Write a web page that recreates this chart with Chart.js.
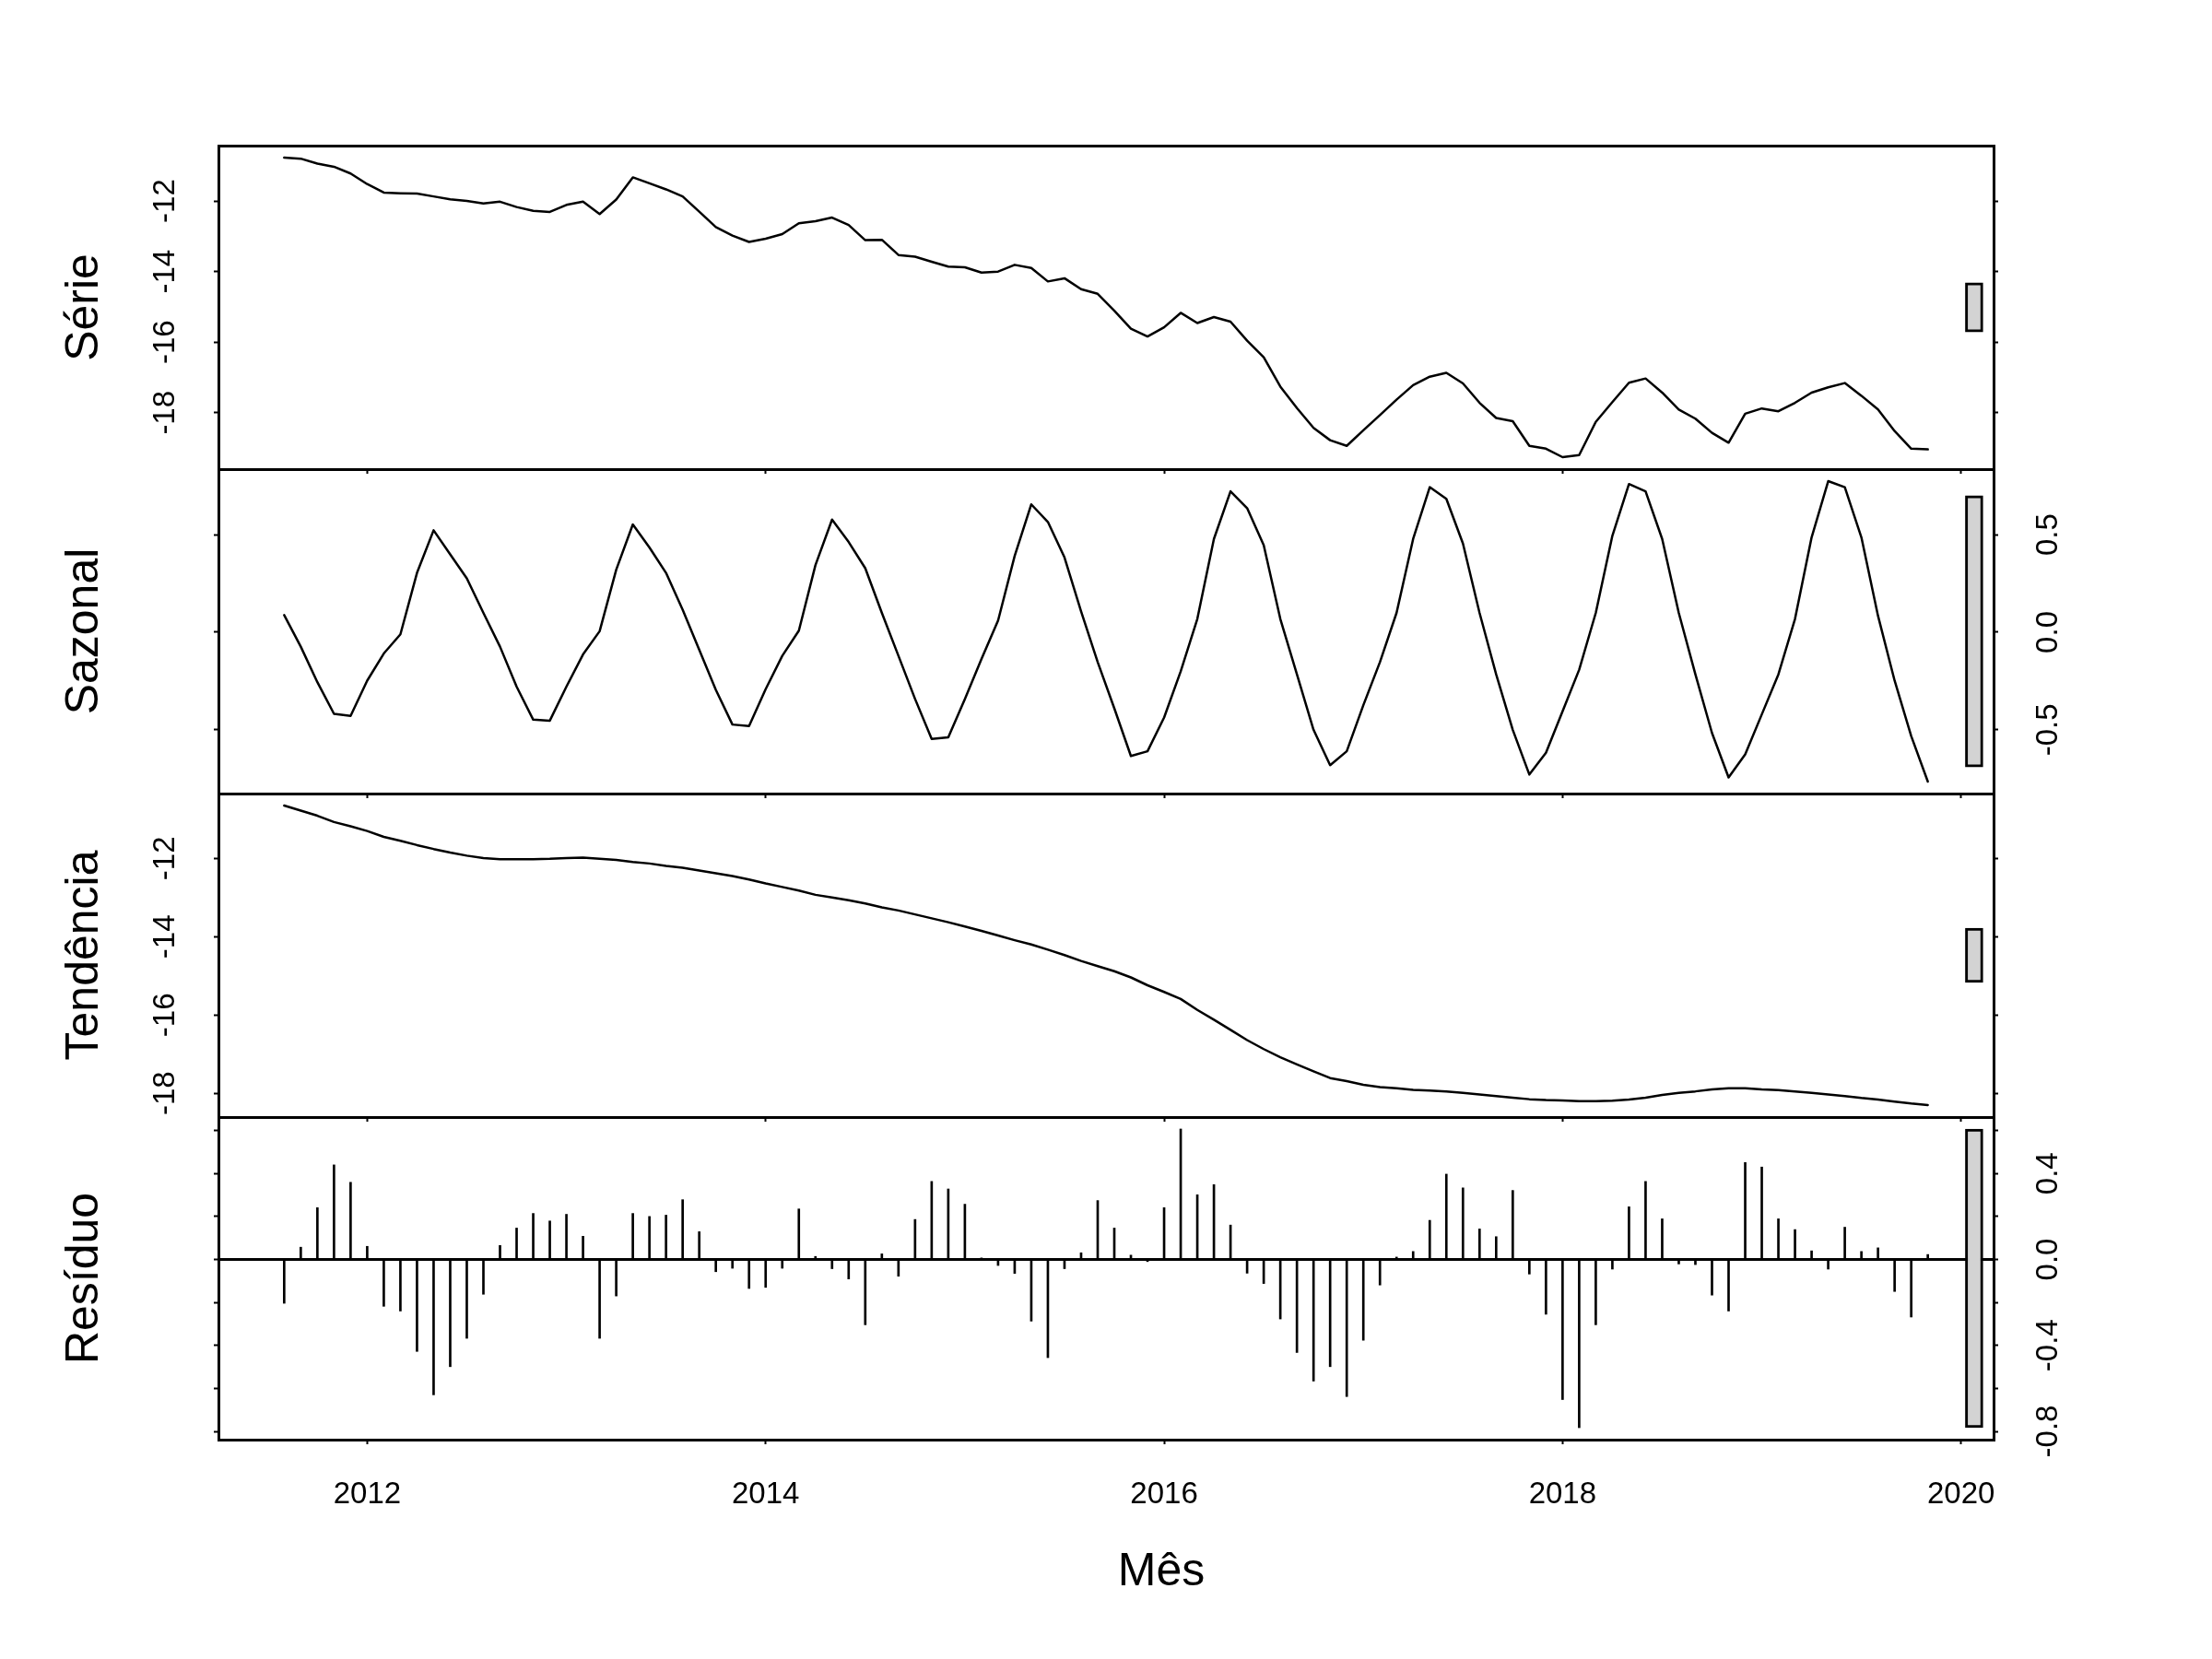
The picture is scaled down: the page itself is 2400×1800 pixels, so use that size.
<!DOCTYPE html>
<html>
<head>
<meta charset="utf-8">
<script src="https://cdn.jsdelivr.net/npm/chart.js@4.4.1/dist/chart.umd.min.js"></script>
<style>
  html, body { margin: 0; padding: 0; background: #fff; }
  #wrap { position: relative; width: 2400px; height: 1800px; }
  #wrap canvas { position: absolute; left: 0; top: 0; }
</style>
</head>
<body>
<div id="wrap">
  <canvas id="serie" width="2400" height="1800"></canvas>
  <canvas id="sazonal" width="2400" height="1800"></canvas>
  <canvas id="tendencia" width="2400" height="1800"></canvas>
  <canvas id="residuo" width="2400" height="1800"></canvas>
</div>
<script>
// monthly series, Aug 2011 - Nov 2019
var startYear = 2011, startMonth = 8;

var serie = [
  -10.77, -10.80, -10.94, -11.03, -11.22, -11.52, -11.76, -11.78, -11.79, -11.87,
  -11.95, -12.00, -12.07, -12.02, -12.17, -12.28, -12.31, -12.11, -12.02, -12.37,
  -11.96, -11.33, -11.50, -11.67, -11.87, -12.30, -12.74, -12.98, -13.16, -13.07,
  -12.94, -12.63, -12.57, -12.47, -12.68, -13.11, -13.10, -13.53, -13.58, -13.72,
  -13.86, -13.88, -14.03, -14.00, -13.81, -13.90, -14.28, -14.19, -14.50, -14.63,
  -15.11, -15.62, -15.84, -15.58, -15.17, -15.46, -15.29, -15.42, -15.96, -16.43,
  -17.26, -17.87, -18.43, -18.78, -18.94, -18.50, -18.07, -17.63, -17.22, -16.98,
  -16.87, -17.17, -17.72, -18.15, -18.24, -18.94, -19.02, -19.26, -19.20, -18.26,
  -17.70, -17.15, -17.03, -17.43, -17.91, -18.17, -18.57, -18.85, -18.03, -17.88,
  -17.96, -17.72, -17.43, -17.28, -17.16, -17.52, -17.91, -18.52, -19.02, -19.04
];

var sazonal = [
  0.088, -0.074, -0.256, -0.418, -0.429, -0.248, -0.109, -0.011, 0.304, 0.522,
  0.399, 0.276, 0.099, -0.074, -0.279, -0.448, -0.453, -0.279, -0.114, 0.005,
  0.320, 0.552, 0.434, 0.304, 0.115, -0.090, -0.295, -0.473, -0.481, -0.292,
  -0.121, 0.008, 0.344, 0.577, 0.462, 0.328, 0.099, -0.121, -0.342, -0.547,
  -0.539, -0.342, -0.137, 0.060, 0.391, 0.655, 0.565, 0.383, 0.107, -0.153,
  -0.390, -0.634, -0.610, -0.437, -0.200, 0.068, 0.478, 0.722, 0.636, 0.446,
  0.068, -0.216, -0.500, -0.681, -0.610, -0.374, -0.153, 0.099, 0.478, 0.743,
  0.683, 0.454, 0.099, -0.216, -0.500, -0.729, -0.618, -0.405, -0.192, 0.099,
  0.494, 0.759, 0.722, 0.478, 0.099, -0.216, -0.516, -0.744, -0.626, -0.421,
  -0.216, 0.068, 0.486, 0.774, 0.743, 0.486, 0.084, -0.248, -0.532, -0.765
];

var tendencia = [
  -10.65, -10.78, -10.91, -11.07, -11.18, -11.30, -11.45, -11.55, -11.66, -11.76,
  -11.85, -11.93, -11.99, -12.02, -12.02, -12.02, -12.01, -11.99, -11.98, -12.01,
  -12.04, -12.09, -12.13, -12.19, -12.24, -12.31, -12.38, -12.45, -12.54, -12.64,
  -12.73, -12.82, -12.93, -13.00, -13.07, -13.15, -13.25, -13.33, -13.43, -13.53,
  -13.63, -13.74, -13.85, -13.97, -14.09, -14.20, -14.33, -14.47, -14.62, -14.75,
  -14.88, -15.04, -15.24, -15.41, -15.59, -15.87, -16.12, -16.38, -16.64, -16.87,
  -17.08, -17.26, -17.44, -17.61, -17.69, -17.78, -17.84, -17.87, -17.91, -17.93,
  -17.95, -17.99, -18.03, -18.07, -18.11, -18.15, -18.17, -18.18, -18.20, -18.20,
  -18.19, -18.16, -18.11, -18.04, -17.99, -17.95, -17.90, -17.87, -17.87, -17.90,
  -17.92, -17.95, -17.99, -18.03, -18.07, -18.12, -18.16, -18.21, -18.26, -18.30
];

var residuo = [
  -0.204, 0.057, 0.241, 0.440, 0.359, 0.061, -0.218, -0.240, -0.428, -0.630,
  -0.499, -0.367, -0.162, 0.065, 0.146, 0.214, 0.179, 0.210, 0.108, -0.367,
  -0.170, 0.214, 0.200, 0.206, 0.278, 0.129, -0.057, -0.041, -0.135, -0.130,
  -0.041, 0.235, 0.014, -0.043, -0.091, -0.304, 0.026, -0.078, 0.186, 0.363,
  0.328, 0.257, 0.007, -0.028, -0.065, -0.287, -0.457, -0.043, 0.031, 0.274,
  0.146, 0.020, -0.010, 0.241, 0.607, 0.301, 0.348, 0.160, -0.064, -0.112,
  -0.277, -0.433, -0.566, -0.499, -0.638, -0.376, -0.119, 0.011, 0.037, 0.182,
  0.397, 0.333, 0.142, 0.106, 0.321, -0.068, -0.255, -0.652, -0.783, -0.304,
  -0.045, 0.245, 0.363, 0.189, -0.021, -0.024, -0.166, -0.240, 0.451, 0.430,
  0.189, 0.139, 0.040, -0.045, 0.150, 0.037, 0.054, -0.149, -0.268, 0.023
];

var yearTicks = [2012, 2014, 2016, 2018, 2020];
var serieTicks = [-18, -16, -14, -12];
var sazonalTicks = [-0.5, 0, 0.5];
var tendenciaTicks = [-18, -16, -14, -12];
var residuoTicks = [-0.8, -0.6, -0.4, -0.2, 0, 0.2, 0.4, 0.6];
var residuoLabels = [-0.8, -0.4, 0, 0.4];

var months = serie.map(function (v, i) {
  return startYear + (startMonth - 1 + i) / 12;
});

// page layout (pixels)
var plotLeft = 237, plotRight = 2163;
var panelEdges = [158, 509, 861, 1212, 1562];
var tickFont = { size: 33 };
var black = '#000';

Chart.defaults.font.family = "'Liberation Sans', Arial, Helvetica, sans-serif";
Chart.defaults.color = black;

var xSpan = months[months.length - 1] - months[0];
var xMin = months[0] - 0.04 * xSpan;
var xMax = months[months.length - 1] + 0.04 * xSpan;

// the grey range bars all share the height of the smallest panel range
function spanOf(a) { return Math.max.apply(null, a) - Math.min.apply(null, a); }
var barSize = Math.min(spanOf(serie), spanOf(sazonal), spanOf(tendencia), spanOf(residuo));
var barX = xMax - 0.7 * (xMax - xMin) / 64;

var mesTitle = {
  id: 'mesTitle',
  afterDraw: function (chart) {
    var ctx = chart.ctx;
    ctx.save();
    ctx.fillStyle = black;
    ctx.font = "50px 'Liberation Sans', Arial, sans-serif";
    ctx.textAlign = 'center';
    ctx.textBaseline = 'alphabetic';
    ctx.fillText('Mês', 1260, 1720);
    ctx.restore();
  }
};

function fixedTicks(list) {
  return function (scale) {
    scale.ticks = list.map(function (v) { return { value: v }; });
  };
}

function makePanel(id, k, name, values, yTicks, labelsRight, fmt) {
  var lo = Math.min.apply(null, values), hi = Math.max.apply(null, values);
  var pad = 0.04 * (hi - lo);
  var cen = (lo + hi) / 2;
  var last = (k === 3);
  var xAxisH = last ? 120 : 5;
  var isResid = (name === 'Resíduo');

  var points = values.map(function (v, i) { return { x: months[i], y: v }; });

  var main = isResid ? {
    type: 'bar',
    data: points,
    backgroundColor: black,
    barThickness: 2,
    grouped: false,
    xAxisID: 'x',
    yAxisID: 'yL'
  } : {
    type: 'line',
    data: points,
    borderColor: black,
    borderWidth: 2.5,
    pointRadius: 0,
    tension: 0,
    fill: false,
    borderJoinStyle: 'round',
    borderCapStyle: 'round',
    xAxisID: 'x',
    yAxisID: 'yL'
  };

  var rangeBar = {
    type: 'bar',
    data: [{ x: barX, y: [cen - barSize / 2, cen + barSize / 2] }],
    backgroundColor: '#d3d3d3',
    borderColor: black,
    borderWidth: 3,
    borderSkipped: false,
    barThickness: 19,
    grouped: false,
    xAxisID: 'x',
    yAxisID: 'yL'
  };

  var yBase = {
    type: 'linear',
    min: lo - pad,
    max: hi + pad,
    afterBuildTicks: fixedTicks(yTicks),
    border: { display: true, color: black, width: 3 },
    ticks: {
      font: tickFont,
      minRotation: 90,
      maxRotation: 90,
      crossAlign: 'center',
      autoSkip: false,
      callback: fmt
    }
  };

  var yL = Chart.helpers.merge({}, [yBase, {
    position: 'left',
    afterFit: function (s) { s.width = plotLeft; },
    grid: { drawOnChartArea: false, tickLength: 5, tickWidth: 2, tickColor: black },
    ticks: { display: !labelsRight, padding: 28 },
    title: { display: true, text: name, font: { size: 50 }, padding: { top: 62, bottom: 0 } }
  }]);

  var yR = Chart.helpers.merge({}, [yBase, {
    position: 'right',
    afterFit: function (s) { s.width = 2400 - plotRight; },
    grid: { drawOnChartArea: false, tickLength: 5, tickWidth: 2, tickColor: black },
    ticks: { display: labelsRight, padding: 26 }
  }]);

  if (isResid) {
    // zero line of the remainder panel, drawn above the bars
    yR.z = 1;
    yR.grid.drawOnChartArea = true;
    yR.grid.lineWidth = 3;
    yR.grid.color = function (c) {
      return c.tick && Math.abs(c.tick.value) < 1e-9 ? black : 'rgba(0,0,0,0)';
    };
  }

  return new Chart(document.getElementById(id), {
    data: { datasets: [main, rangeBar] },
    options: {
      responsive: false,
      animation: false,
      devicePixelRatio: 1,
      events: [],
      layout: { padding: { left: 0, right: 0, top: panelEdges[k], bottom: 1800 - panelEdges[k + 1] - xAxisH } },
      plugins: { legend: { display: false }, tooltip: { enabled: false } },
      scales: {
        x: {
          type: 'linear',
          position: 'bottom',
          min: xMin,
          max: xMax,
          offset: false,
          afterBuildTicks: fixedTicks(yearTicks),
          afterFit: function (s) { s.height = xAxisH; },
          grid: { drawOnChartArea: false, offset: false, tickLength: 5, tickWidth: 2, tickColor: black },
          border: { display: true, color: black, width: 3 },
          ticks: {
            display: last,
            font: tickFont,
            padding: 35,
            maxRotation: 0,
            autoSkip: false,
            callback: function (v) { return String(v); }
          }
        },
        xTop: {
          type: 'linear',
          position: 'top',
          min: xMin,
          max: xMax,
          afterFit: function (s) { s.height = 0; },
          grid: { drawOnChartArea: false, drawTicks: false },
          border: { display: true, color: black, width: 3 },
          ticks: { display: false }
        },
        yL: yL,
        yR: yR
      }
    },
    plugins: last ? [mesTitle] : []
  });
}

function intLabel(v) { return String(v); }
function oneDecimal(v) { return v.toFixed(1); }
function residLabel(v) {
  for (var i = 0; i < residuoLabels.length; i++) {
    if (Math.abs(residuoLabels[i] - v) < 1e-9) return v.toFixed(1);
  }
  return '';
}

makePanel('serie', 0, 'Série', serie, serieTicks, false, intLabel);
makePanel('sazonal', 1, 'Sazonal', sazonal, sazonalTicks, true, oneDecimal);
makePanel('tendencia', 2, 'Tendência', tendencia, tendenciaTicks, false, intLabel);
makePanel('residuo', 3, 'Resíduo', residuo, residuoTicks, true, residLabel);
</script>
</body>
</html>
